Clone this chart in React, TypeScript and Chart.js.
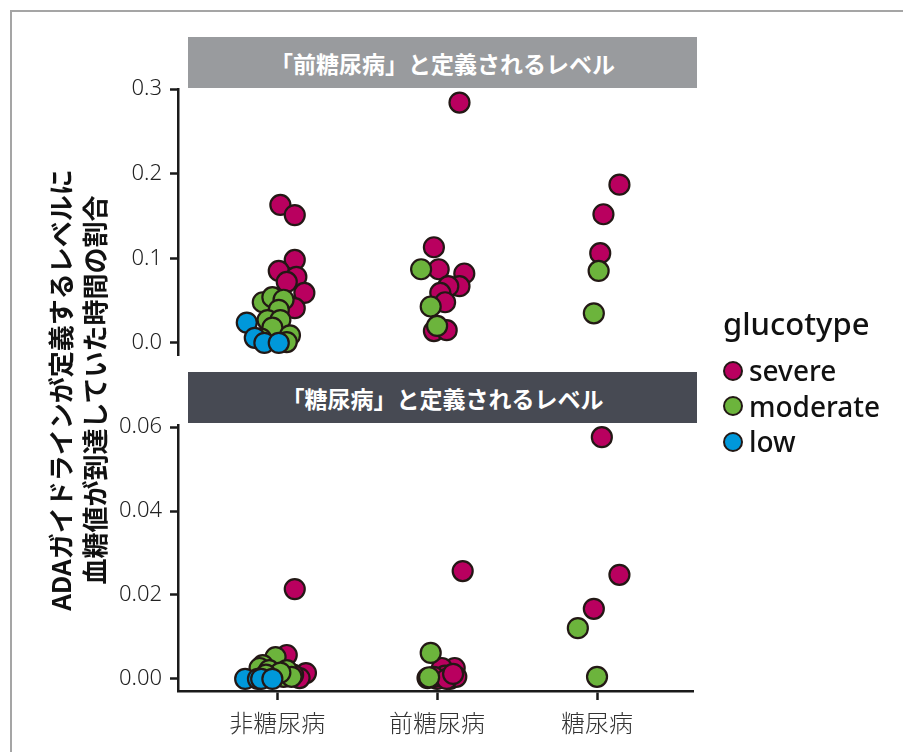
import React, { useEffect, useRef } from "react";
import { Chart, registerables } from "chart.js";

Chart.register(...registerables);

const CATEGORIES = ["非糖尿病", "前糖尿病", "糖尿病"];
const SERIES = ["severe", "moderate", "low"];
const COLORS = ["#b9005f", "#6cb43c", "#0098da"];
const TOP_TICKS = [0, 0.1, 0.2, 0.3];
const TOP_TICK_LABELS = ["0.0", "0.1", "0.2", "0.3"];
const BOTTOM_TICKS = [0, 0.02, 0.04, 0.06];
const BOTTOM_TICK_LABELS = ["0.00", "0.02", "0.04", "0.06"];
const STRIP_TOP = "「前糖尿病」と定義されるレベル";
const STRIP_BOTTOM = "「糖尿病」と定義されるレベル";
const Y_TITLE = ["ADAガイドラインが定義するレベルに", "血糖値が到達していた時間の割合"];
const LEGEND_TITLE = "glucotype";

// [category position incl. jitter, value] — panel: prediabetic-level threshold
const preSevere = [
  [0.02, 0.163], [0.11, 0.151], [0.11, 0.098], [0.01, 0.085], [0.12, 0.078],
  [0.06, 0.072], [0.17, 0.059], [0.11, 0.041],
  [1.14, 0.284], [0.98, 0.113], [1.01, 0.087], [1.17, 0.082], [1.14, 0.067],
  [1.07, 0.067], [1.02, 0.059], [1.05, 0.048], [0.98, 0.014], [1.06, 0.015],
  [2.14, 0.187], [2.04, 0.152], [2.02, 0.106],
];
const preModerate = [
  [-0.09, 0.048], [-0.03, 0.054], [0.04, 0.051], [0.01, 0.039], [-0.06, 0.027],
  [0.02, 0.027], [-0.03, 0.018], [0.08, 0.009], [0.06, 0.001], [-0.1, 0.005],
  [0.9, 0.087], [0.96, 0.043], [1.0, 0.02],
  [2.01, 0.085], [1.98, 0.035],
];
const preLow = [
  [-0.19, 0.024], [-0.14, 0.006], [-0.08, 0.0], [0.01, 0.0],
];

// panel: diabetic-level threshold
const diaSevere = [
  [0.11, 0.0214], [0.06, 0.0057], [0.18, 0.0014], [0.14, 0.0002], [0.1, 0.001],
  [1.16, 0.0257], [1.11, 0.0026], [1.03, 0.0026], [1.08, 0.0], [1.0, 0.0],
  [1.12, 0.0005], [1.05, 0.0008], [0.98, 0.0005], [1.06, 0.0], [1.1, 0.0012],
  [2.03, 0.0576], [2.14, 0.0248], [1.98, 0.0167],
];
const diaModerate = [
  [-0.01, 0.0052], [-0.09, 0.0033], [-0.11, 0.0026], [-0.05, 0.0021], [0.06, 0.0021],
  [-0.04, 0.0005], [0.04, 0.0005], [0.09, 0.0005], [0.02, 0.0015], [-0.07, 0.001],
  [0.96, 0.0062], [0.94, 0.0002], [0.95, 0.0004],
  [1.88, 0.0121], [2.0, 0.0005],
];
const diaLow = [
  [-0.2, 0.0], [-0.12, 0.0], [-0.1, 0.0], [-0.03, 0.0],
];

const W = 903;
const H = 752;
const AXIS_COLOR = "#1a1a1a";
const TICK_FONT = { family: "'Noto Sans', 'Noto Sans CJK JP', sans-serif", size: 22, weight: "300" as any };
const CJK_FONT = "'Noto Sans CJK JP', 'Noto Sans', sans-serif";

function makeDatasets(groups: number[][][]) {
  return groups.map((pts, i) => ({
    label: SERIES[i],
    data: pts.map(([x, y]) => ({ x, y })),
    backgroundColor: COLORS[i],
    borderColor: "#231815",
    pointBackgroundColor: COLORS[i],
    pointBorderColor: "#231815",
    pointBorderWidth: 2.2,
    pointRadius: 10,
    showLine: false,
    order: 3 - i,
  }));
}

function yScale(min: number, max: number, ticks: number[], labels: string[]) {
  return {
    type: "linear",
    min,
    max,
    afterBuildTicks: (s: any) => {
      s.ticks = ticks.map((v) => ({ value: v }));
    },
    afterFit: (s: any) => {
      s.width = 178;
      s.paddingTop = 0;
      s.paddingBottom = 0;
    },
    ticks: {
      callback: (_v: any, i: number) => labels[i],
      font: TICK_FONT,
      color: "#222",
      padding: 8,
    },
    grid: {
      drawOnChartArea: false,
      drawTicks: true,
      tickLength: 8,
      tickWidth: 2.5,
      tickColor: AXIS_COLOR,
    },
    border: { display: true, color: AXIS_COLOR, width: 2.5 },
  };
}

function PanelChart(props: { top: boolean }) {
  const ref = useRef<HTMLCanvasElement>(null);
  useEffect(() => {
    if (!ref.current) return;
    const top = props.top;
    const datasets = makeDatasets(top ? [preSevere, preModerate, preLow] : [diaSevere, diaModerate, diaLow]);
    const xScale: any = top
      ? { type: "linear", min: -0.62, max: 2.6, display: false }
      : {
          type: "linear",
          min: -0.62,
          max: 2.6,
          afterBuildTicks: (s: any) => {
            s.ticks = CATEGORIES.map((_, i) => ({ value: i }));
          },
          afterFit: (s: any) => {
            s.height = H - 691;
            s.paddingLeft = 0;
            s.paddingRight = 0;
          },
          ticks: {
            callback: (v: any) => CATEGORIES[Math.round(Number(v))],
            font: { family: CJK_FONT, size: 24, weight: "300" as any },
            color: "#333",
            padding: 8,
            maxRotation: 0,
            autoSkip: false,
          },
          grid: {
            drawOnChartArea: false,
            drawTicks: true,
            tickLength: 9,
            tickWidth: 2.5,
            tickColor: AXIS_COLOR,
          },
          border: { display: true, color: AXIS_COLOR, width: 2.5 },
        };
    const chart = new Chart(ref.current, {
      type: "scatter",
      data: { datasets } as any,
      options: {
        animation: false,
        responsive: true,
        maintainAspectRatio: false,
        events: [],
        clip: false as any,
        layout: {
          padding: top
            ? { top: 89, bottom: H - 355, left: 0, right: W - 693 }
            : { top: 425, bottom: 0, left: 0, right: W - 693 },
        },
        plugins: { legend: { display: false }, tooltip: { enabled: false } },
        scales: {
          x: xScale,
          y: top
            ? (yScale(-0.0143, 0.3, TOP_TICKS, TOP_TICK_LABELS) as any)
            : (yScale(-0.00288, 0.0605, BOTTOM_TICKS, BOTTOM_TICK_LABELS) as any),
        },
      },
    });
    return () => chart.destroy();
  }, []);
  return (
    <div style={{ position: "absolute", left: 0, top: 0, width: W, height: H }}>
      <canvas ref={ref} />
    </div>
  );
}

export default function App() {
  const strip = (text: string, top: number, bg: string) => (
    <div
      style={{
        position: "absolute",
        left: 188,
        top,
        width: 509,
        height: 51,
        background: bg,
        color: "#fff",
        fontFamily: CJK_FONT,
        fontWeight: 700,
        fontSize: 23,
        display: "flex",
        alignItems: "center",
        justifyContent: "center",
        whiteSpace: "nowrap",
      }}
    >
      {text}
    </div>
  );
  return (
    <div
      style={{
        position: "fixed",
        left: 0,
        top: 0,
        width: W,
        height: H,
        background: "#fff",
        overflow: "hidden",
      }}
    >
      <div
        style={{
          position: "absolute",
          left: 10,
          top: 10,
          width: W,
          height: H,
          borderLeft: "2px solid #a5a5a5",
          borderTop: "2px solid #a5a5a5",
        }}
      />
      {strip(STRIP_TOP, 37, "#999b9e")}
      {strip(STRIP_BOTTOM, 372, "#474a53")}
      <PanelChart top={true} />
      <PanelChart top={false} />
      <div
        style={{
          position: "absolute",
          left: 77 - 240,
          top: 390 - 34,
          width: 480,
          height: 68,
          transform: "rotate(-90deg)",
          transformOrigin: "50% 50%",
          fontFamily: CJK_FONT,
          fontWeight: 700,
          fontSize: 26,
          lineHeight: "34px",
          textAlign: "center",
          color: "#111",
          whiteSpace: "nowrap",
        }}
      >
        <div>{Y_TITLE[0]}</div>
        <div>{Y_TITLE[1]}</div>
      </div>
      <div
        style={{
          position: "absolute",
          left: 723,
          top: 306,
          fontFamily: "'Noto Sans', sans-serif",
          color: "#111",
        }}
      >
        <div style={{ fontSize: 31, fontWeight: 500, lineHeight: "34px", marginBottom: 13 }}>{LEGEND_TITLE}</div>
        {SERIES.map((s, i) => (
          <div key={s} style={{ display: "flex", alignItems: "center", height: 35.5 }}>
            <span
              style={{
                display: "inline-block",
                width: 16,
                height: 16,
                borderRadius: "50%",
                background: COLORS[i],
                border: "2.2px solid #231815",
                marginLeft: 0,
                marginRight: 6,
              }}
            />
            <span style={{ fontSize: 28, fontWeight: 500, lineHeight: "35px" }}>{s}</span>
          </div>
        ))}
      </div>
    </div>
  );
}
